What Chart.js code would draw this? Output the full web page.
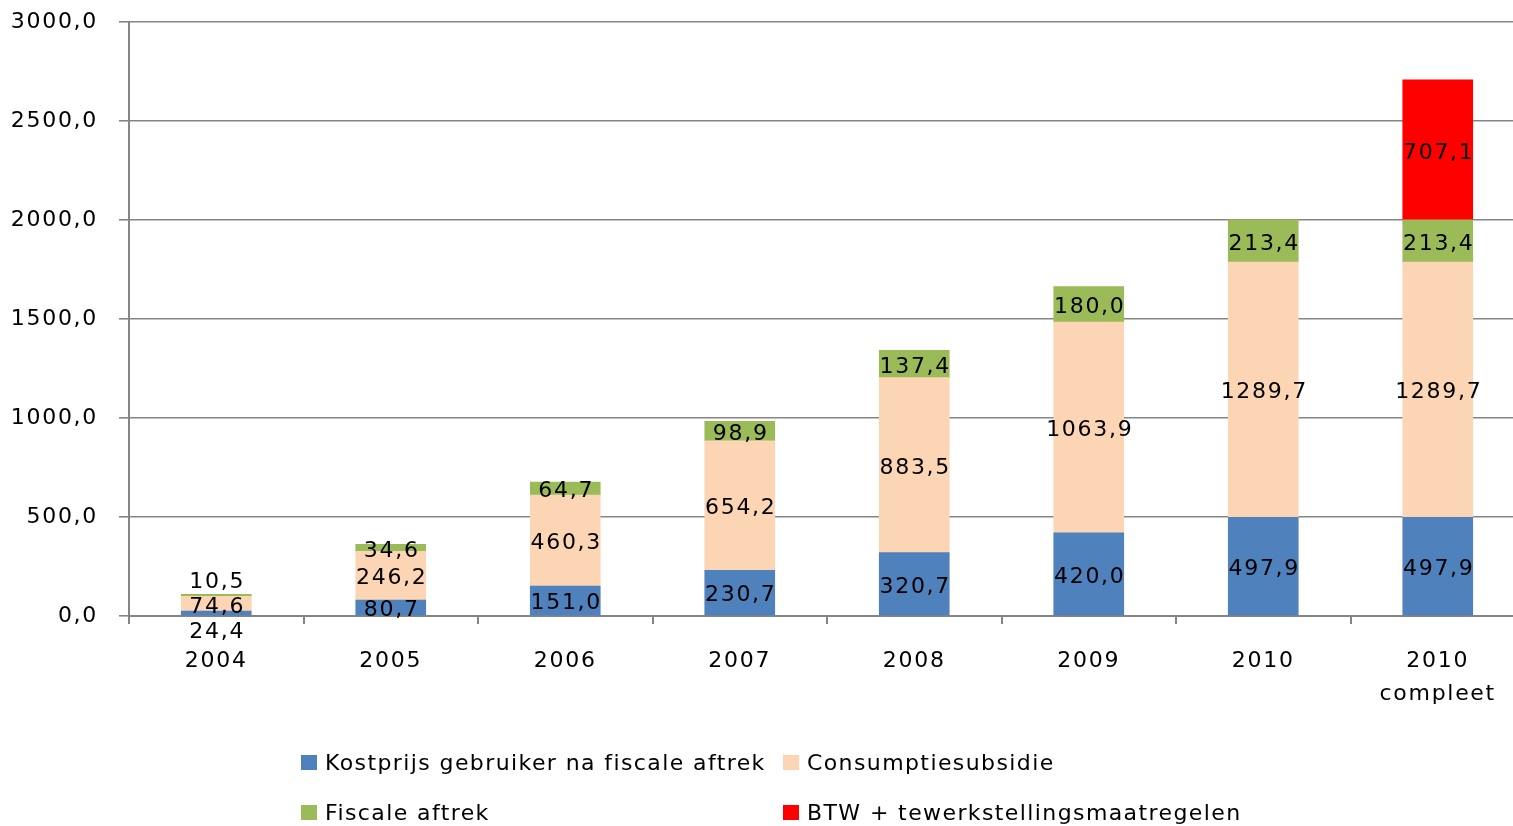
<!DOCTYPE html>
<html>
<head>
<meta charset="utf-8">
<script src="https://cdn.jsdelivr.net/npm/chart.js@4"></script>
<style>
  html, body { margin: 0; padding: 0; background: #fff; overflow: hidden; }
  #wrap { width: 1525px; height: 826px; position: relative; }
</style>
</head>
<body>
<div id="wrap"><canvas id="chart"></canvas></div>
<script>
// data
const years = ['2004', '2005', '2006', '2007', '2008', '2009', '2010', ['2010', 'compleet']];
const kostprijs = [24.4, 80.7, 151.0, 230.7, 320.7, 420.0, 497.9, 497.9];
const subsidie = [74.6, 246.2, 460.3, 654.2, 883.5, 1063.9, 1289.7, 1289.7];
const fiscaal = [10.5, 34.6, 64.7, 98.9, 137.4, 180.0, 213.4, 213.4];
const btw = [null, null, null, null, null, null, null, 707.1];
const seriesNames = ['Kostprijs gebruiker na fiscale aftrek', 'Consumptiesubsidie', 'Fiscale aftrek', 'BTW + tewerkstellingsmaatregelen'];

const FONT = '"DejaVu Sans", sans-serif';
const SPACING = '1.7px';
const gridGrey = '#858585';

function fmt(v) {
    return v.toFixed(1).replace('.', ',');
}

// keep the wide letter look of the original
const spacingPlugin = {
    id: 'spacing',
    beforeUpdate(chart) { chart.ctx.letterSpacing = SPACING; },
    beforeDraw(chart) { chart.ctx.letterSpacing = SPACING; }
};

// value labels in the middle of each segment, pushed apart when they collide
const valueLabels = {
    id: 'valueLabels',
    afterDatasetsDraw(chart) {
        const ctx = chart.ctx;
        ctx.save();
        ctx.letterSpacing = SPACING;
        ctx.font = '22px ' + FONT;
        ctx.fillStyle = '#000';
        ctx.textAlign = 'center';
        ctx.textBaseline = 'middle';
        const minGap = 25;
        for (let i = 0; i < years.length; i++) {
            let items = [];
            chart.data.datasets.forEach((ds, d) => {
                const v = ds.data[i];
                if (v == null) return;
                const el = chart.getDatasetMeta(d).data[i];
                items.push({ x: el.x, y: (el.y + el.base) / 2, text: fmt(v) });
            });
            items.sort((a, b) => a.y - b.y);
            for (let pass = 0; pass < 30; pass++) {
                for (let k = 0; k < items.length - 1; k++) {
                    const gap = items[k + 1].y - items[k].y;
                    if (gap < minGap) {
                        const push = (minGap - gap) / 2;
                        items[k].y -= push;
                        items[k + 1].y += push;
                    }
                }
            }
            items.forEach(it => ctx.fillText(it.text, it.x + 1, it.y + 3));
        }
        ctx.restore();
    }
};

// two column legend under the chart
const gridLegend = {
    id: 'gridLegend',
    afterDraw(chart) {
        const ctx = chart.ctx;
        const cols = [301, 783];
        const rows = [755, 805];
        ctx.save();
        ctx.letterSpacing = '1.4px';
        ctx.font = '22px ' + FONT;
        ctx.textAlign = 'left';
        ctx.textBaseline = 'middle';
        chart.data.datasets.forEach((ds, d) => {
            const x = cols[d % 2];
            const y = rows[Math.floor(d / 2)];
            ctx.fillStyle = ds.backgroundColor;
            ctx.fillRect(x, y, 16, 15);
            ctx.fillStyle = '#000';
            ctx.fillText(ds.label, x + 24, y + 9);
        });
        ctx.restore();
    }
};

new Chart(document.getElementById('chart'), {
    type: 'bar',
    data: {
        labels: years,
        datasets: [
            { label: seriesNames[0], data: kostprijs, backgroundColor: '#4f81bd' },
            { label: seriesNames[1], data: subsidie, backgroundColor: '#fcd5b4' },
            { label: seriesNames[2], data: fiscaal, backgroundColor: '#9bbb59' },
            { label: seriesNames[3], data: btw, backgroundColor: '#ff0000' }
        ]
    },
    options: {
        responsive: true,
        maintainAspectRatio: false,
        animation: false,
        layout: { padding: { top: 22, right: 0, bottom: 120, left: 0 } },
        datasets: { bar: { barThickness: 70 } },
        plugins: {
            legend: { display: false },
            tooltip: { enabled: false }
        },
        scales: {
            x: {
                stacked: true,
                afterFit(scale) { scale.height = 90; },
                grid: { drawOnChartArea: false, tickLength: 8, color: gridGrey, lineWidth: 2 },
                border: { color: gridGrey, width: 2 },
                ticks: {
                    color: '#000',
                    padding: 21,
                    maxRotation: 0,
                    font: { family: FONT, size: 22, lineHeight: 1.5 }
                }
            },
            y: {
                stacked: true,
                min: 0,
                max: 3000,
                afterFit(scale) {
                    scale.width = 129;
                    scale.paddingTop = 0;
                    scale.paddingBottom = 0;
                },
                grid: { tickLength: 10, color: gridGrey, lineWidth: 1.6 },
                border: { color: gridGrey, width: 2 },
                ticks: {
                    stepSize: 500,
                    color: '#000',
                    padding: 21,
                    font: { family: FONT, size: 22 },
                    callback: v => fmt(v)
                }
            }
        }
    },
    plugins: [spacingPlugin, valueLabels, gridLegend]
});
</script>
</body>
</html>
